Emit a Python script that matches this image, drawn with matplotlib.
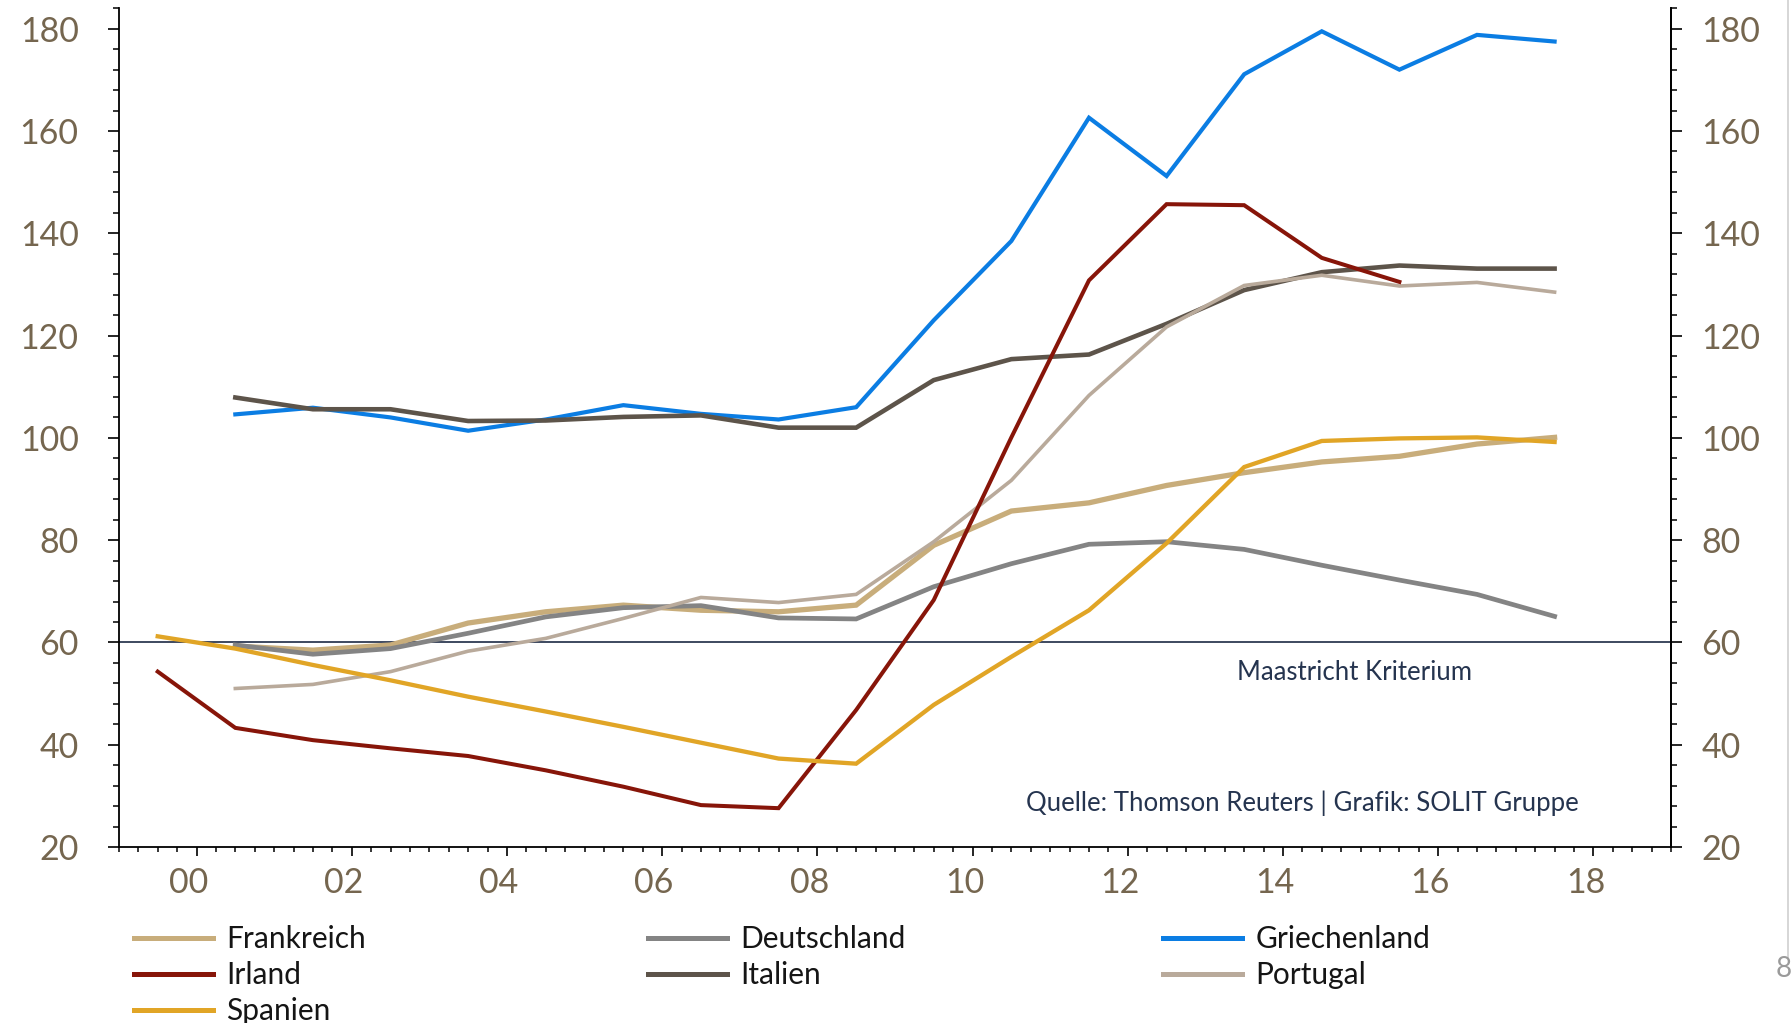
import numpy as np
import matplotlib
matplotlib.use("Agg")
import matplotlib.pyplot as plt
import matplotlib.transforms as mtransforms
from matplotlib.lines import Line2D
from matplotlib.ticker import MultipleLocator, FixedLocator, FuncFormatter

plt.rcParams['font.family'] = ['Lato', 'DejaVu Sans']

# Staatsverschuldung in % des BIP, Jahreswerte (Jahresmitte geplottet)
years = np.arange(1999, 2018)
nan = np.nan

frankreich = [nan, 59.3, 58.5, 59.5, 63.8, 66.0, 67.3, 66.3, 66.0, 67.3,
              79.0, 85.7, 87.3, 90.7, 93.2, 95.3, 96.4, 98.8, 100.1]
deutschland = [nan, 59.5, 57.7, 58.8, 61.8, 65.0, 66.8, 67.2, 64.8, 64.6,
               70.9, 75.4, 79.2, 79.7, 78.2, 75.1, 72.2, 69.4, 65.1]
griechenland = [nan, 104.6, 105.9, 104.0, 101.4, 103.6, 106.4, 104.7, 103.6, 106.0,
                123.0, 138.5, 162.6, 151.2, 171.1, 179.5, 172.0, 178.8, 177.5]
irland = [54.3, 43.3, 40.9, 39.3, 37.8, 35.0, 31.8, 28.2, 27.6, 46.8,
          68.3, 100.1, 130.8, 145.7, 145.5, 135.2, 130.5, nan, nan]
italien = [nan, 107.9, 105.6, 105.6, 103.3, 103.4, 104.1, 104.4, 102.0, 102.0,
           111.3, 115.4, 116.3, 122.3, 128.9, 132.4, 133.7, 133.1, 133.1]
portugal = [nan, 51.0, 51.8, 54.3, 58.3, 60.8, 64.7, 68.8, 67.8, 69.4,
            79.7, 91.7, 108.3, 121.7, 129.8, 131.8, 129.7, 130.4, 128.5]
spanien = [61.2, 58.8, 55.6, 52.6, 49.4, 46.5, 43.5, 40.4, 37.3, 36.3,
           47.8, 57.2, 66.3, 79.4, 94.3, 99.4, 99.9, 100.1, 99.2]

maastricht = 60
tick_years = np.arange(2000, 2019, 2)

# (name, data, color, linewidth) in drawing order
series = [
    ("Frankreich", frankreich, "#c8ad7b", 3.8),
    ("Deutschland", deutschland, "#848484", 3.4),
    ("Griechenland", griechenland, "#0b7de3", 3.0),
    ("Italien", italien, "#5d544a", 3.3),
    ("Portugal", portugal, "#b9aa9b", 2.6),
    ("Irland", irland, "#871509", 2.9),
    ("Spanien", spanien, "#e1a526", 3.1),
]
colors = {name: c for name, _, c, _ in series}

label_col = "#75664f"
text_col = "#25344f"

fig = plt.figure(figsize=(17.91, 10.23), dpi=100)
ax = fig.add_axes([0.0664, 0.1720, 0.8666, 0.8199])

x = years + 0.5
for name, vals, col, lw in series:
    ax.plot(x, vals, color=col, lw=lw, solid_joinstyle="miter", label=name)

ax.axhline(maastricht, color="#1c2a44", lw=1.2, zorder=1)

ax.set_xlim(1999, 2019)
ax.set_ylim(20, 184)

ax.xaxis.set_major_locator(FixedLocator(tick_years))
ax.xaxis.set_major_formatter(FuncFormatter(lambda v, p: "%02d" % (int(round(v)) % 100)))
ax.xaxis.set_minor_locator(MultipleLocator(0.25))
ax.yaxis.set_major_locator(MultipleLocator(20))
ax.yaxis.set_minor_locator(MultipleLocator(4))

ax2 = ax.twinx()
ax2.set_ylim(ax.get_ylim())
ax2.yaxis.set_major_locator(MultipleLocator(20))
ax2.yaxis.set_minor_locator(MultipleLocator(4))

for a in (ax, ax2):
    a.spines["top"].set_visible(False)
    for s in a.spines.values():
        s.set_linewidth(1.3)
        s.set_color("black")

ax2.spines["left"].set_visible(False)
ax2.spines["bottom"].set_visible(False)

ax.tick_params(axis="y", which="major", length=8, width=1.2, direction="out",
               labelsize=24.5, labelcolor=label_col, pad=21)
ax.tick_params(axis="y", which="minor", length=4, width=1.1, direction="out")
ax.tick_params(axis="x", which="major", length=6.7, width=1.2, direction="out",
               labelsize=24.5, labelcolor=label_col, pad=8)
ax.tick_params(axis="x", which="minor", length=3.6, width=1.1, direction="out")
ax2.tick_params(axis="y", which="major", length=8, width=1.2, direction="out",
                labelsize=24.5, labelcolor=label_col, pad=14)
ax2.tick_params(axis="y", which="minor", length=4, width=1.1, direction="out")

# x labels sit a little left of their ticks in the original
shift = mtransforms.ScaledTranslation(-8 / 100, 0, fig.dpi_scale_trans)
for lab in ax.get_xticklabels():
    lab.set_transform(lab.get_transform() + shift)

ax.text(2014.92, 54.2, "Maastricht Kriterium", ha="center", va="center",
        fontsize=18.5, color=text_col)
ax.text(2014.25, 28.6, "Quelle: Thomson Reuters | Grafik: SOLIT Gruppe",
        ha="center", va="center", fontsize=18.5, color=text_col)

# legend in three columns, row-major order like the original
cols = [["Frankreich", "Irland", "Spanien"],
        ["Deutschland", "Italien"],
        ["Griechenland", "Portugal"]]
col_x = [133.7 / 1791, 648 / 1791, 1163 / 1791]
for names, cx in zip(cols, col_x):
    handles = [Line2D([], [], color=colors[n], lw=3.6) for n in names]
    leg = fig.legend(handles, names, loc="upper left",
                     bbox_to_anchor=(cx, 1 - 925 / 1023),
                     frameon=False, fontsize=21.5, handlelength=2.65,
                     handletextpad=0.45, labelspacing=0.27,
                     borderpad=0, borderaxespad=0)
    for t in leg.get_texts():
        t.set_color("#151515")

# page number and slide edge
fig.text(1776 / 1791, 1 - 969 / 1023, "8", ha="left", va="center",
         fontsize=20, color="#9a9a9a")
fig.add_artist(Line2D([0.9985, 0.9985], [1.0, 1 - 958 / 1023],
                      color="#cfcfcf", lw=1.2))

fig.savefig("out.png", dpi=100)
